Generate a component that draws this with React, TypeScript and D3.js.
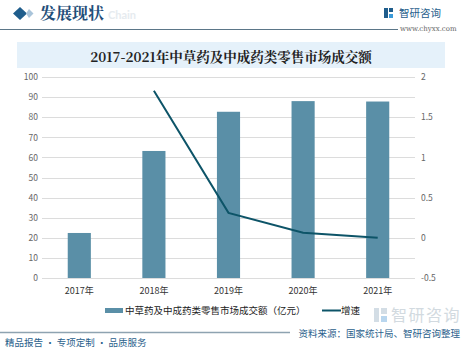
import React, { useEffect, useRef } from 'react';
import * as d3 from 'd3';

// 数据
const years = ['2017年', '2018年', '2019年', '2020年', '2021年'];
const sales = [22.4, 63.2, 82.7, 88.0, 87.8];
const growth: (number | null)[] = [null, 1.83, 0.31, 0.064, 0.0];
const leftTicks = [0, 10, 20, 30, 40, 50, 60, 70, 80, 90, 100];
const rightTicks = [-0.5, 0, 0.5, 1, 1.5, 2];

const App = () => {
  const svgRef = useRef<SVGSVGElement>(null);

  useEffect(() => {
    const width = 474;
    const height = 351;
    const plot = { left: 42, right: 415, top: 77, bottom: 278 };

    const svg = d3.select(svgRef.current)
      .attr('width', width)
      .attr('height', height);
    svg.selectAll('*').remove();

    const sans = '"Noto Sans CJK SC", "Noto Sans", sans-serif';

    // 页眉
    svg.append('rect').attr('width', width).attr('height', height).attr('fill', '#ffffff');
    svg.append('path')
      .attr('d', 'M20,7 L27,13.5 L20,20 L13,13.5 Z')
      .attr('fill', '#1f5d8c');
    svg.append('path')
      .attr('d', 'M29,9 L33.5,13.5 L29,18 L26,13.5 Z')
      .attr('fill', '#a9c4da');
    svg.append('text')
      .attr('x', 40).attr('y', 19)
      .attr('font-family', '"Noto Serif CJK SC", "Noto Sans CJK SC", serif')
      .attr('font-weight', 'bold')
      .attr('font-size', 16)
      .attr('fill', '#1f4e79')
      .text('发展现状');
    svg.append('text')
      .attr('x', 108).attr('y', 19)
      .attr('font-family', 'Lato, sans-serif')
      .attr('font-weight', 'bold')
      .attr('font-size', 11)
      .attr('fill', '#e6ebef')
      .text('Chain');
    svg.append('line')
      .attr('x1', 0).attr('x2', 398).attr('y1', 29.5).attr('y2', 29.5)
      .attr('stroke', '#5b7688').attr('stroke-width', 1.2);

    // 右上角标志
    const logo = svg.append('g').attr('transform', 'translate(384,8)');
    logo.append('rect').attr('x', 0).attr('y', 0).attr('width', 4).attr('height', 10).attr('fill', '#1f5d8c');
    logo.append('rect').attr('x', 5).attr('y', 0).attr('width', 4).attr('height', 4).attr('fill', '#1f5d8c');
    logo.append('rect').attr('x', 5).attr('y', 6).attr('width', 4).attr('height', 4).attr('fill', '#3a9ad9');
    svg.append('text')
      .attr('x', 399).attr('y', 17)
      .attr('font-family', sans).attr('font-size', 10.5)
      .attr('fill', '#1f5d8c')
      .text('智研咨询');
    svg.append('text')
      .attr('x', 400).attr('y', 31)
      .attr('font-family', '"DejaVu Serif", serif').attr('font-size', 7)
      .attr('fill', '#666')
      .text('www.chyxx.com');

    // 标题
    svg.append('rect')
      .attr('x', 17).attr('y', 42).attr('width', 428).attr('height', 26)
      .attr('fill', '#e5f1fa');
    svg.append('text')
      .attr('x', 231).attr('y', 62)
      .attr('text-anchor', 'middle')
      .attr('font-family', '"Noto Serif CJK SC", "DejaVu Serif", serif')
      .attr('font-weight', 'bold')
      .attr('font-size', 13.5)
      .attr('fill', '#222')
      .text('2017-2021年中草药及中成药类零售市场成交额');

    // 比例尺
    const x = d3.scaleBand<string>()
      .domain(years)
      .range([plot.left, plot.right])
      .paddingInner(0.69)
      .paddingOuter(0.345);
    const yLeft = d3.scaleLinear().domain([0, 100]).range([plot.bottom, plot.top]);
    const yRight = d3.scaleLinear().domain([-0.5, 2]).range([plot.bottom, plot.top]);
    const center = (d: string) => (x(d) as number) + x.bandwidth() / 2;

    // 网格线
    svg.append('g')
      .selectAll('line')
      .data(leftTicks)
      .join('line')
      .attr('x1', plot.left).attr('x2', plot.right)
      .attr('y1', d => Math.round(yLeft(d)) + 0.5)
      .attr('y2', d => Math.round(yLeft(d)) + 0.5)
      .attr('stroke', '#dcdcdc')
      .attr('stroke-width', 1);

    // 左轴
    const leftAxis = svg.append('g')
      .attr('transform', `translate(${plot.left - 4},0)`)
      .call(d3.axisLeft(yLeft).tickValues(leftTicks).tickSize(0).tickPadding(0));
    leftAxis.select('.domain').remove();
    leftAxis.selectAll('text')
      .attr('font-family', sans).attr('font-size', 8.5).attr('fill', '#666');

    // 右轴
    const rightAxis = svg.append('g')
      .attr('transform', `translate(${plot.right + 6},0)`)
      .call(d3.axisRight(yRight).tickValues(rightTicks).tickSize(0).tickPadding(0)
        .tickFormat(d => String(d)));
    rightAxis.select('.domain').remove();
    rightAxis.selectAll('text')
      .attr('font-family', sans).attr('font-size', 8.5).attr('fill', '#666');

    // 柱形
    svg.append('g')
      .selectAll('rect')
      .data(years)
      .join('rect')
      .attr('x', d => x(d) as number)
      .attr('y', (d, i) => yLeft(sales[i]))
      .attr('width', x.bandwidth())
      .attr('height', (d, i) => yLeft(0) - yLeft(sales[i]))
      .attr('fill', '#5a8fa7');

    // 增速折线
    const pts = years.map((d, i) => ({ year: d, v: growth[i] })).filter(p => p.v !== null) as { year: string; v: number }[];
    const line = d3.line<{ year: string; v: number }>()
      .x(p => center(p.year))
      .y(p => yRight(p.v));
    svg.append('path')
      .datum(pts)
      .attr('fill', 'none')
      .attr('stroke', '#0d5468')
      .attr('stroke-width', 2)
      .attr('d', line);

    // X 轴标签
    svg.append('g')
      .selectAll('text')
      .data(years)
      .join('text')
      .attr('x', d => center(d))
      .attr('y', 294)
      .attr('text-anchor', 'middle')
      .attr('font-family', sans).attr('font-size', 9).attr('fill', '#333')
      .text(d => d);

    // 图例
    svg.append('rect')
      .attr('x', 105).attr('y', 308).attr('width', 18).attr('height', 5)
      .attr('fill', '#5a8fa7');
    svg.append('text')
      .attr('x', 125).attr('y', 314)
      .attr('font-family', sans).attr('font-size', 9.5).attr('fill', '#222')
      .text('中草药及中成药类零售市场成交额（亿元）');
    svg.append('line')
      .attr('x1', 322).attr('x2', 341).attr('y1', 310.5).attr('y2', 310.5)
      .attr('stroke', '#0d5468').attr('stroke-width', 2);
    svg.append('text')
      .attr('x', 341).attr('y', 314)
      .attr('font-family', sans).attr('font-size', 9.5).attr('fill', '#222')
      .text('增速');

    // 水印
    const wm = svg.append('g').attr('transform', 'translate(374,308)');
    wm.append('rect').attr('x', 0).attr('y', 0).attr('width', 5).attr('height', 14).attr('fill', '#d3dde5');
    wm.append('rect').attr('x', 7).attr('y', 0).attr('width', 6).attr('height', 6).attr('fill', '#d3dde5');
    wm.append('rect').attr('x', 7).attr('y', 8).attr('width', 6).attr('height', 6).attr('fill', '#b9d6ee');
    svg.append('text')
      .attr('x', 391).attr('y', 321)
      .attr('font-family', sans).attr('font-size', 16).attr('fill', '#d2dae0')
      .attr('letter-spacing', 1.5)
      .text('智研咨询');

    // 页脚
    svg.append('line')
      .attr('x1', 0).attr('x2', 290).attr('y1', 332.5).attr('y2', 332.5)
      .attr('stroke', '#8ea3b1').attr('stroke-width', 1.5);
    svg.append('text')
      .attr('x', 460).attr('y', 337)
      .attr('text-anchor', 'end')
      .attr('font-family', sans).attr('font-size', 9.5).attr('fill', '#2b5f8c')
      .text('资料来源：国家统计局、智研咨询整理');
    svg.append('text')
      .attr('x', 5).attr('y', 346)
      .attr('font-family', sans).attr('font-size', 9.5).attr('fill', '#2b5f8c')
      .text('精品报告 · 专项定制 · 品质服务');
  }, []);

  return (
    <svg ref={svgRef} style={{ position: 'absolute', left: 0, top: 0, display: 'block' }}></svg>
  );
};

export default App;
